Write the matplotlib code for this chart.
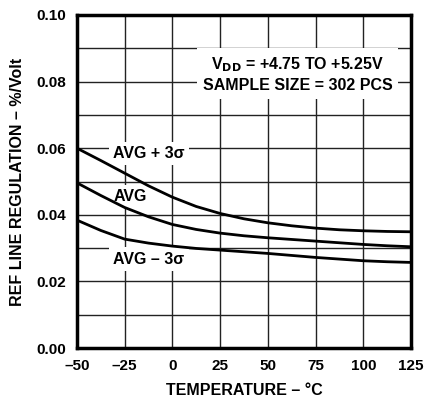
import matplotlib
matplotlib.use("Agg")
import matplotlib.pyplot as plt

plt.rcParams['font.family'] = ['Liberation Sans', 'DejaVu Sans']

temp = [-50, -37.5, -25, -12.5, 0, 12.5, 25, 37.5, 50, 62.5, 75, 87.5, 100, 112.5, 125]
avg_plus = [0.0600, 0.0563, 0.0525, 0.0487, 0.0453, 0.0425, 0.0404, 0.0388, 0.0376,
            0.0367, 0.0360, 0.0355, 0.0352, 0.0350, 0.0349]
avg = [0.0496, 0.0458, 0.0422, 0.0394, 0.0371, 0.0356, 0.0345, 0.0337, 0.0331,
       0.0326, 0.0321, 0.0316, 0.0311, 0.0307, 0.0304]
avg_minus = [0.0384, 0.0353, 0.0327, 0.0315, 0.0306, 0.0299, 0.0294, 0.0289, 0.0284,
             0.0278, 0.0272, 0.0267, 0.0262, 0.0259, 0.0257]

xticks = [-50, -25, 0, 25, 50, 75, 100, 125]
xlabels = ["\u201350", "\u201325", "0", "25", "50", "75", "100", "125"]
yticks = [0.00, 0.02, 0.04, 0.06, 0.08, 0.10]
ylabels = ["0.00", "0.02", "0.04", "0.06", "0.08", "0.10"]

fig = plt.figure(figsize=(4.25, 4.0), dpi=100)
ax = fig.add_axes([0.181, 0.13, 0.786, 0.8325])

# grid every 25 degC and every 0.01
for x in range(-50, 126, 25):
    ax.axvline(x, color="#222222", linewidth=1.0, zorder=1)
for i in range(11):
    ax.axhline(i * 0.01, color="#222222", linewidth=1.0, zorder=1)

for series in (avg_plus, avg, avg_minus):
    ax.plot(temp, series, color="black", linewidth=2.0, zorder=6,
            solid_capstyle="butt")

ax.set_xlim(-50, 125)
ax.set_ylim(0, 0.10)
ax.set_xticks(xticks)
ax.set_xticklabels(xlabels)
ax.set_yticks(yticks)
ax.set_yticklabels(ylabels)
ax.tick_params(axis="x", length=0, labelsize=11, pad=8)
ax.tick_params(axis="y", length=0, labelsize=11, pad=8)
for lbl in ax.get_xticklabels() + ax.get_yticklabels():
    lbl.set_fontweight("bold")
for s in ax.spines.values():
    s.set_linewidth(2.5)
    s.set_zorder(7)

box = dict(facecolor="white", edgecolor="none", pad=3)
ax.text(-31, 0.0585, "AVG + 3\u03c3", fontsize=11.5, fontweight="bold", va="center", bbox=box, zorder=4)
ax.text(-31, 0.0455, "AVG", fontsize=11.5, fontweight="bold", va="center", bbox=box, zorder=4)
ax.text(-31, 0.0267, "AVG \u2013 3\u03c3", fontsize=11.5, fontweight="bold", va="center", bbox=box, zorder=4)
ax.text(65.5, 0.0822, "V$_{\\mathbf{DD}}$ = +4.75 TO +5.25V\nSAMPLE SIZE = 302 PCS", fontsize=11.5,
        fontweight="bold", ha="center", va="center", linespacing=1.35,
        bbox=dict(facecolor="white", edgecolor="none", pad=4), zorder=4)

ax.set_xlabel("TEMPERATURE \u2013 \u00b0C", fontsize=11.5, fontweight="bold", labelpad=7)
ax.set_ylabel("REF LINE REGULATION \u2013 %/Volt", fontsize=11.5, fontweight="bold", labelpad=8)

fig.savefig("out.png", dpi=100)
